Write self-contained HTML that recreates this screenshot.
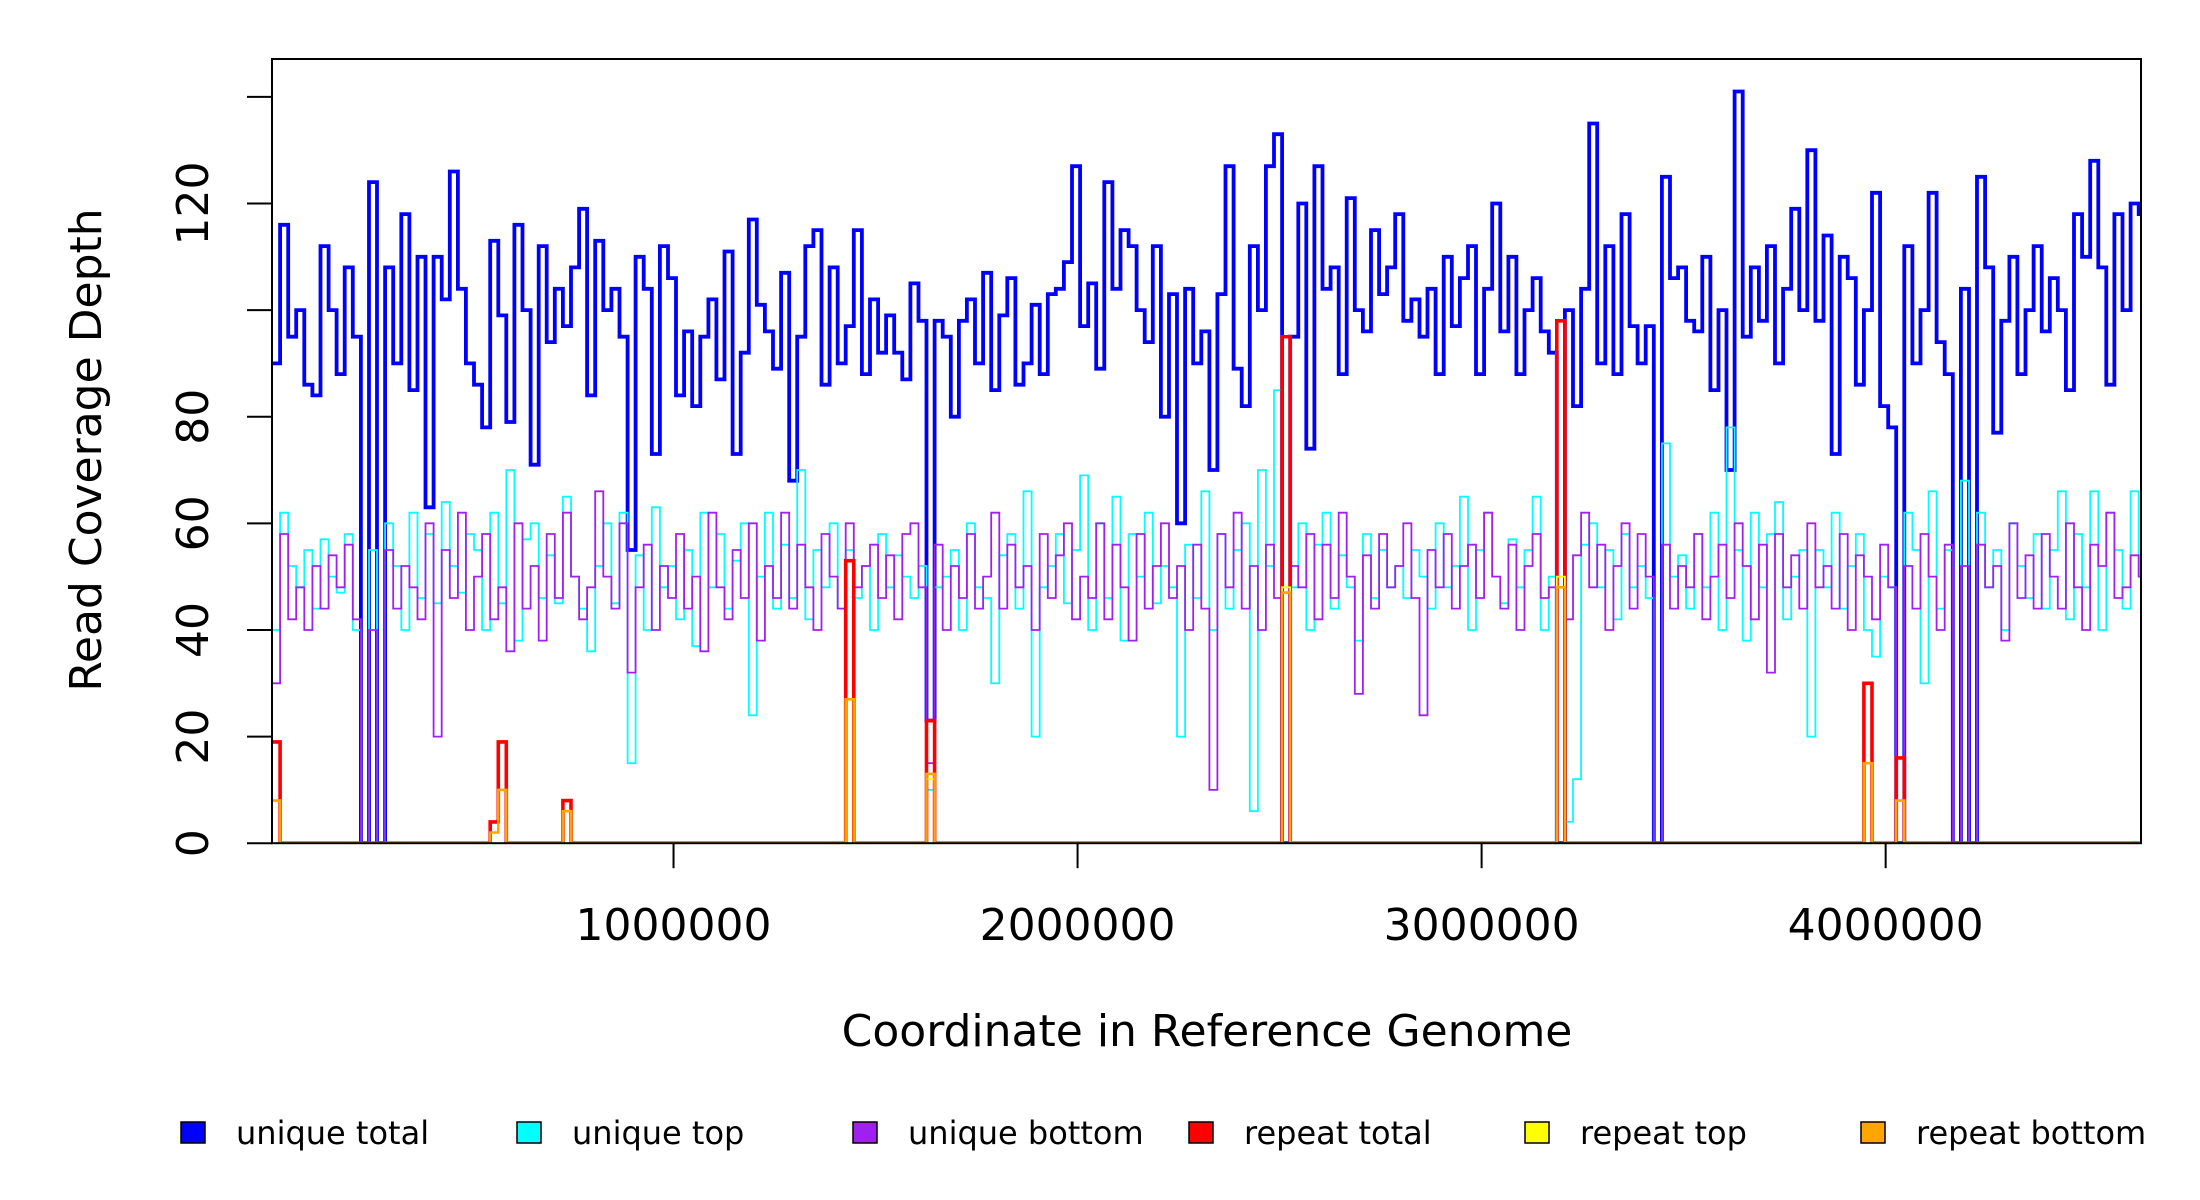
<!DOCTYPE html>
<html><head><meta charset="utf-8"><style>
html,body{margin:0;padding:0;background:#fff;}
svg{display:block;font-family:"DejaVu Sans","Liberation Sans",sans-serif;}
</style></head><body>
<svg id="chart" width="2200" height="1200" viewBox="0 0 2200 1200" xmlns="http://www.w3.org/2000/svg">
<defs><clipPath id="plotclip"><rect x="272" y="59" width="1869" height="784.2"/></clipPath></defs>
<g id="marks" clip-path="url(#plotclip)"></g>
<rect x="272" y="59" width="1869" height="784.2" fill="none" stroke="#000" stroke-width="2"/>
<g id="axes"></g>
<text x="1207" y="1046" font-size="44" text-anchor="middle">Coordinate in Reference Genome</text>
<text transform="translate(101,450) rotate(-90)" font-size="44" text-anchor="middle">Read Coverage Depth</text>
<g id="legend"></g>
</svg>
<script>
const binStart = 6200;
const binWidth = 20000;
const uniqueTotal = [90,116,95,100,86,84,112,100,88,108,
95,0,124,0,108,90,118,85,110,63,
110,102,126,104,90,86,78,113,99,79,
116,100,71,112,94,104,97,108,119,84,
113,100,104,95,55,110,104,73,112,106,
84,96,82,95,102,87,111,73,92,117,
101,96,89,107,68,95,112,115,86,108,
90,97,115,88,102,92,99,92,87,105,
98,23,98,95,80,98,102,90,107,85,
99,106,86,90,101,88,103,104,109,127,
97,105,89,124,104,115,112,100,94,112,
80,103,60,104,90,96,70,103,127,89,
82,112,100,127,133,0,95,120,74,127,
104,108,88,121,100,96,115,103,108,118,
98,102,95,104,88,110,97,106,112,88,
104,120,96,110,88,100,106,96,92,0,
100,82,104,135,90,112,88,118,97,90,
97,0,125,106,108,98,96,110,85,100,
70,141,95,108,98,112,90,104,119,100,
130,98,114,73,110,106,86,100,122,82,
78,0,112,90,100,122,94,88,0,104,
0,125,108,77,98,110,88,100,112,96,
106,100,85,118,110,128,108,86,118,100,120,118];
const uniqueTop = [40,62,52,48,55,44,57,50,47,58,
40,0,55,0,60,52,40,62,46,58,
45,64,52,47,58,55,40,62,45,70,
38,57,60,46,54,45,65,50,44,36,
52,60,45,62,15,54,40,63,48,52,
42,55,37,62,48,58,44,53,60,24,
50,62,44,56,46,70,42,55,48,60,
44,55,46,52,40,58,48,54,50,46,
52,10,48,50,55,40,60,48,46,30,
54,58,44,66,20,48,52,58,45,55,
69,40,60,46,65,38,58,50,62,45,
52,48,20,56,46,66,40,58,44,55,
60,6,70,52,85,0,48,60,40,56,
62,44,54,48,38,58,46,55,48,52,
46,55,50,44,60,48,52,65,40,55,
62,50,45,57,48,55,65,40,50,0,
4,12,56,60,48,55,42,58,48,52,
46,0,75,50,54,44,58,48,62,40,
78,55,38,62,48,58,64,42,50,55,
20,55,48,62,44,52,58,40,35,50,
48,0,62,55,30,66,44,55,0,68,
0,62,48,55,40,60,52,46,58,44,
55,66,42,58,48,66,40,62,55,44,66,50];
const uniqueBottom = [30,58,42,48,40,52,44,54,48,56,
42,0,40,0,55,44,52,48,42,60,
20,55,46,62,40,50,58,42,48,36,
60,44,52,38,58,46,62,50,42,48,
66,50,44,60,32,48,56,40,52,46,
58,44,50,36,62,48,42,55,46,60,
38,52,46,62,44,56,48,40,58,50,
44,60,48,52,56,46,54,42,58,60,
48,15,56,40,52,46,58,44,50,62,
44,56,48,52,40,58,46,54,60,42,
50,46,60,42,56,48,38,58,44,52,
60,46,52,40,56,44,10,58,48,62,
44,52,40,56,46,0,52,48,58,42,
56,46,62,50,28,54,44,58,48,52,
60,46,24,55,48,58,44,52,56,46,
62,50,44,56,40,52,58,46,48,0,
42,54,62,48,56,40,52,60,44,58,
50,0,56,44,52,48,58,42,50,56,
46,60,52,42,56,32,58,48,54,44,
60,48,52,44,58,40,54,50,42,56,
48,16,52,44,58,50,40,56,0,52,
0,56,48,52,38,60,46,54,44,58,
50,44,60,48,40,56,52,62,46,48,54,50];
const repeatBins = [0,27,28,36,71,81,125,159,197,201];
const repeatTotal = [19,4,19,8,53,23,95,98,30,16];
const repeatTop = [8,2,10,6,27,12,48,50,15,8];
const repeatBottom = [8,2,10,6,27,13,47,48,15,8];
const xTicks = [1000000,2000000,3000000,4000000];
const yTicks = [0,20,40,60,80,100,120,140];
const yTickLabels = ["0","20","40","60","80","","120",""];
const legendLabels = ["unique total","unique top","unique bottom","repeat total","repeat top","repeat bottom"];
const legendColors = ["#0000ff","#00ffff","#a020f0","#ff0000","#ffff00","#ffa500"];

const NS = "http://www.w3.org/2000/svg";
const X0 = 272, X1 = 2141, Y0 = 843.2, Y1 = 59;
const xMin = 6200, xMax = 4632000, yMax = 147.1;
function xs(v){ return X0 + (v - xMin) / (xMax - xMin) * (X1 - X0); }
function ys(v){ return Y0 - v / yMax * (Y0 - Y1); }
function mk(tag, attrs, parent){ const e = document.createElementNS(NS, tag); for (const k in attrs) e.setAttribute(k, attrs[k]); parent.appendChild(e); return e; }
function expand(bins, vals, n){ const a = new Array(n).fill(0); bins.forEach((b,i)=>{ a[b] = vals[i]; }); return a; }
function stepPath(vals){
  let d = "";
  vals.forEach((v,i)=>{
    const xa = xs(binStart + i*binWidth), xb = xs(binStart + (i+1)*binWidth), y = ys(v);
    d += (i===0 ? "M" : "L") + xa.toFixed(1) + "," + y.toFixed(1) + "L" + xb.toFixed(1) + "," + y.toFixed(1);
  });
  return d;
}
const marks = document.getElementById("marks");
const n = uniqueTotal.length;
const series = [
  ["unique-total-line", uniqueTotal, "#0000ff", 3.8],
  ["unique-top-line", uniqueTop, "#00ffff", 1.8],
  ["unique-bottom-line", uniqueBottom, "#a020f0", 1.8],
  ["repeat-total-line", expand(repeatBins, repeatTotal, n), "#ff0000", 3.6],
  ["repeat-top-line", expand(repeatBins, repeatTop, n), "#ffff00", 1.8],
  ["repeat-bottom-line", expand(repeatBins, repeatBottom, n), "#ffa500", 2.6]
];
series.forEach(s=>{
  const p = mk("path", {d: stepPath(s[1]), fill:"none", stroke:s[2], "stroke-width":s[3], "stroke-linejoin":"miter"}, marks);
  
  
});
const axes = document.getElementById("axes");


xTicks.forEach(t=>{
  const x = xs(t);
  const l = mk("line", {x1:x, x2:x, y1:Y0, y2:Y0+25, stroke:"#000", "stroke-width":2}, axes);
  
  
  const tx = mk("text", {x:x, y:940, "font-size":44, "text-anchor":"middle"}, axes);
  tx.textContent = String(t);
  
  
});
yTicks.forEach((t,i)=>{
  const y = ys(t);
  const l = mk("line", {x1:X0-25, x2:X0, y1:y, y2:y, stroke:"#000", "stroke-width":2}, axes);
  
  
  if (yTickLabels[i]) {
    const tx = mk("text", {transform:"translate(208,"+y+") rotate(-90)", "font-size":44, "text-anchor":"middle"}, axes);
    tx.textContent = yTickLabels[i];
    
    
  }
});
const legend = document.getElementById("legend");
legendLabels.forEach((lab,i)=>{
  const bx = 181 + i*336;
  const g = mk("g", {}, legend);
  
  
  mk("rect", {x:bx, y:1122, width:24, height:21, fill:legendColors[i], stroke:"#000", "stroke-width":1.5}, g);
  const t = mk("text", {x:bx+55, y:1144, "font-size":32}, g);
  t.textContent = lab;
});
</script>
</body></html>
